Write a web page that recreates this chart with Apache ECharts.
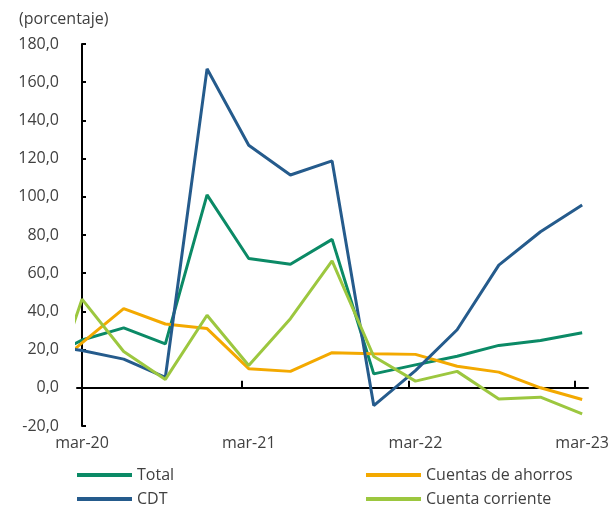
<!DOCTYPE html>
<html>
<head>
<meta charset="utf-8">
<script src="https://cdn.jsdelivr.net/npm/echarts@6/dist/echarts.min.js"></script>
<style>
  html, body { margin: 0; padding: 0; background: #fff; }
  #main { width: 614px; height: 508px; }
</style>
</head>
<body>
<div id="main"></div>
<script>
// periodos trimestrales (dic-19 queda fuera del eje, solo se ve el tramo recortado)
var periodos = ['dic-19', 'mar-20', 'jun-20', 'sep-20', 'dic-20', 'mar-21', 'jun-21', 'sep-21', 'dic-21', 'mar-22', 'jun-22', 'sep-22', 'dic-22', 'mar-23']
var etiquetasX = [0, 4, 8, 12] // mar-20, mar-21, mar-22, mar-23
var marcasX = [3.83, 7.83, 11.83]

var total = [14, 25, 31.4, 23, 101, 67.7, 64.7, 77.7, 7.3, 12, 16.5, 22.2, 24.8, 28.8]
var ahorros = [5, 23.5, 41.5, 33.4, 31, 10, 8.6, 18.4, 17.8, 17.5, 11.3, 8.2, 0, -6.1]
var cdt = [23, 19.5, 15, 5.5, 167, 127, 111.4, 118.8, -9.3, 9, 30.4, 64.2, 81.7, 95.7]
var corriente = [-18, 46.4, 19, 4.4, 38, 11.7, 36.2, 66.5, 16.4, 3.5, 8.6, -5.8, -4.9, -13.7]

function puntos(valores) {
  return valores.map(function (v, i) { return [i - 1, v] })
}

var fuente = 'Open Sans'
var gris = '#404040'

var leyenda = {
  orient: 'vertical',
  top: 467,
  padding: 0,
  icon: 'rect',
  itemWidth: 55,
  itemHeight: 4,
  itemGap: 8,
  textStyle: { fontFamily: fuente, fontSize: 16, color: gris, lineHeight: 16 }
}

var chartDom = document.getElementById('main')
var myChart = echarts.init(chartDom)
var option = {
  animation: false,
  title: {
    text: '(porcentaje)',
    left: 14,
    top: 6,
    textStyle: { fontFamily: fuente, fontSize: 16, fontWeight: 'normal', color: gris }
  },
  grid: { left: 77, right: 26, top: 44, bottom: 82 },
  legend: [
    Object.assign({}, leyenda, { data: ['Total', 'CDT'], left: 77 }),
    Object.assign({}, leyenda, { data: ['Cuentas de ahorros', 'Cuenta corriente'], left: 366 })
  ],
  xAxis: [
    {
      // etiquetas abajo
      type: 'value',
      min: -0.12,
      max: 12.14,
      position: 'bottom',
      axisLine: { show: false, onZero: false },
      axisTick: { show: false },
      splitLine: { show: false },
      axisLabel: {
        customValues: etiquetasX,
        margin: 9,
        fontFamily: fuente,
        fontSize: 16,
        color: gris,
        formatter: function (v) { return periodos[Math.round(v) + 1] }
      }
    },
    {
      // linea en cero
      type: 'value',
      min: -0.12,
      max: 12.14,
      position: 'bottom',
      axisLine: { show: true, onZero: true, lineStyle: { color: '#000', width: 2 } },
      axisTick: { show: true, inside: true, length: 7, customValues: marcasX, lineStyle: { color: '#000', width: 2 } },
      axisLabel: { show: false },
      splitLine: { show: false }
    }
  ],
  yAxis: {
    type: 'value',
    min: -20,
    max: 180,
    interval: 20,
    axisLine: { show: true, lineStyle: { color: '#000', width: 2 } },
    axisTick: { show: true, inside: true, length: 4, lineStyle: { color: '#000', width: 2 } },
    splitLine: { show: false },
    axisLabel: {
      margin: 18,
      fontFamily: fuente,
      fontSize: 16,
      color: gris,
      formatter: function (v) { return v.toFixed(1).replace('.', ',') }
    }
  },
  series: [
    {
      name: 'Total', type: 'line', data: puntos(total), symbol: 'none',
      itemStyle: { color: '#0b8a66' }, lineStyle: { width: 3, color: '#0b8a66' }
    },
    {
      name: 'Cuentas de ahorros', type: 'line', data: puntos(ahorros), symbol: 'none',
      itemStyle: { color: '#f3a900' }, lineStyle: { width: 3, color: '#f3a900' }
    },
    {
      name: 'CDT', type: 'line', data: puntos(cdt), symbol: 'none',
      itemStyle: { color: '#255b8c' }, lineStyle: { width: 3, color: '#255b8c' }
    },
    {
      name: 'Cuenta corriente', type: 'line', data: puntos(corriente), symbol: 'none',
      itemStyle: { color: '#9cc73f' }, lineStyle: { width: 3, color: '#9cc73f' }
    }
  ]
}
option && myChart.setOption(option)
</script>
</body>
</html>
